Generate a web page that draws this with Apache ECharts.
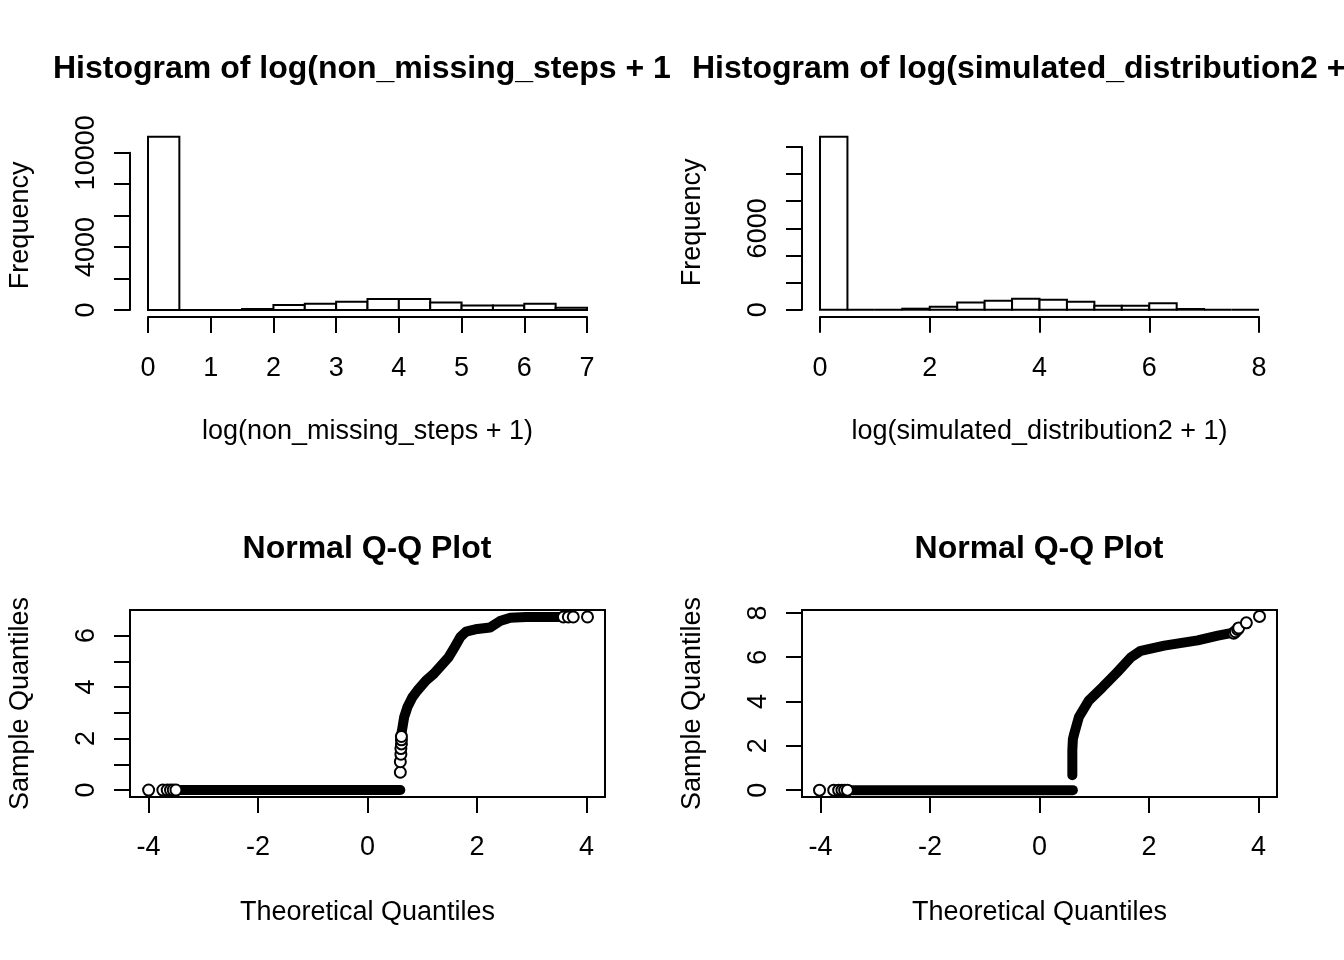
<!DOCTYPE html>
<html>
<head>
<meta charset="UTF-8">
<title>log steps histograms and Q-Q plots</title>
<style>
  html, body { margin: 0; padding: 0; background: #fff; }
  #main { width: 1344px; height: 960px; }
</style>
</head>
<body>
<div id="main"></div>
<script src="https://cdn.jsdelivr.net/npm/echarts@6/dist/echarts.min.js"></script>
<script>
// histogram bins (breaks) and counts
var breaksA = [0, 0.5, 1, 1.5, 2, 2.5, 3, 3.5, 4, 4.5, 5, 5.5, 6, 6.5, 7];
var countsA = [11020, 0, 5, 60, 320, 400, 530, 700, 700, 470, 280, 280, 400, 150];
var breaksB = [0, 0.5, 1, 1.5, 2, 2.5, 3, 3.5, 4, 4.5, 5, 5.5, 6, 6.5, 7, 7.5, 8];
var countsB = [12750, 0, 0, 75, 220, 540, 660, 810, 740, 590, 295, 295, 470, 50, 0, 0];

// histogram axis labels (R drops the ones that would overlap)
var histLabelsYA = [0, 4000, 10000];
var histLabelsYB = [0, 6000];

// Q-Q plot A (non_missing_steps): [theoretical, sample]
var qqZeroTailA = [[-4.0, 0], [-3.74, 0], [-3.66, 0], [-3.6, 0], [-3.55, 0], [-3.5, 0]];
var qqZeroBandA = [[-3.47, 0], [0.60, 0]];
var qqStepsA = [[0.60, 0.69], [0.60, 1.10], [0.61, 1.39], [0.61, 1.61], [0.62, 1.79], [0.62, 1.95], [0.62, 2.08]];
var qqRiseA = [[0.62, 2.2], [0.64, 2.44], [0.67, 2.83], [0.73, 3.22], [0.82, 3.60], [0.91, 3.86],
  [1.07, 4.25], [1.21, 4.51], [1.37, 4.89], [1.48, 5.15], [1.59, 5.54], [1.70, 5.95], [1.80, 6.15],
  [1.97, 6.24], [2.24, 6.31], [2.42, 6.56], [2.61, 6.69], [2.9, 6.72], [3.52, 6.72]];
var qqTopA = [[3.58, 6.72], [3.67, 6.72], [3.76, 6.72], [4.02, 6.72]];

// Q-Q plot B (simulated_distribution2)
var qqZeroTailB = [[-4.02, 0], [-3.76, 0], [-3.67, 0], [-3.61, 0], [-3.56, 0], [-3.51, 0]];
var qqZeroBandB = [[-3.48, 0], [0.61, 0]];
var qqRiseB = [[0.60, 0.67], [0.60, 1.8], [0.61, 2.3], [0.64, 2.6], [0.72, 3.3], [0.90, 4.04],
  [1.15, 4.64], [1.42, 5.32], [1.67, 5.99], [1.85, 6.29], [2.28, 6.52], [2.89, 6.76], [3.26, 6.97], [3.52, 7.10]];
var qqTopB = [[3.55, 7.08], [3.58, 7.15], [3.62, 7.25], [3.64, 7.32], [3.78, 7.55], [4.02, 7.84]];

var qqTicksX = [-4, -2, 0, 2, 4];
var qqTicksYA = [0, 1, 2, 3, 4, 5, 6];
var qqLabelsYA = [0, 2, 4, 6];
var qqTicksYB = [0, 2, 4, 6, 8];

var FONT = '"Liberation Sans", Arial, sans-serif';
var black = '#000';

function binData(breaks, counts) {
  var out = [];
  for (var i = 0; i < counts.length; i++) out.push([breaks[i], breaks[i + 1], counts[i]]);
  return out;
}

function histItem(params, api) {
  var p0 = api.coord([api.value(0), 0]);
  var p1 = api.coord([api.value(1), api.value(2)]);
  return {
    type: 'rect',
    shape: { x: p0[0], y: p1[1], width: p1[0] - p0[0], height: p0[1] - p1[1] },
    style: { fill: '#fff', stroke: black, lineWidth: 2 }
  };
}

function plain(v) { return String(v); }

var lbl = { color: black, fontSize: 27, fontFamily: FONT };
var tick = { show: true, length: 16, lineStyle: { color: black, width: 2 } };
var line = { show: true, onZero: false, lineStyle: { color: black, width: 2 } };
var noLine = { show: false, onZero: false };

function histX(grid, max, name) {
  return {
    type: 'value', gridIndex: grid, min: 0, max: max, interval: max === 8 ? 2 : 1,
    position: 'bottom', offset: 7,
    axisLine: line, axisTick: tick, splitLine: { show: false },
    axisLabel: Object.assign({ margin: 38, showMinLabel: true, showMaxLabel: true, formatter: plain }, lbl),
    name: name, nameLocation: 'middle', nameGap: 101, nameTextStyle: lbl
  };
}
function histY(grid, max, labels) {
  return {
    type: 'value', gridIndex: grid, min: 0, max: max, interval: 2000,
    position: 'left', offset: 18,
    axisLine: line, axisTick: tick, splitLine: { show: false },
    axisLabel: Object.assign({ margin: 30, rotate: 90, customValues: labels, formatter: plain }, lbl),
    name: 'Frequency', nameLocation: 'middle', nameGap: 96, nameRotate: 90,
    nameTextStyle: Object.assign({ padding: [0, 0, 0, 12] }, lbl)
  };
}
function qqX(grid) {
  return {
    type: 'value', gridIndex: grid, min: -4.34, max: 4.34, position: 'bottom',
    axisLine: noLine,
    axisTick: Object.assign({ customValues: qqTicksX }, tick),
    splitLine: { show: false },
    axisLabel: Object.assign({ margin: 37, customValues: qqTicksX, formatter: plain }, lbl),
    name: 'Theoretical Quantiles', nameLocation: 'middle', nameGap: 102, nameTextStyle: lbl
  };
}
function qqY(grid, min, max, ticks, labels) {
  return {
    type: 'value', gridIndex: grid, min: min, max: max, position: 'left',
    axisLine: noLine,
    axisTick: Object.assign({ customValues: ticks }, tick),
    splitLine: { show: false },
    axisLabel: Object.assign({ margin: 30, rotate: 90, customValues: labels, formatter: plain }, lbl),
    name: 'Sample Quantiles', nameLocation: 'middle', nameGap: 96, nameRotate: 90, nameTextStyle: lbl
  };
}

function band(idx, data) {
  return {
    type: 'line', xAxisIndex: idx, yAxisIndex: idx, data: data, showSymbol: false, clip: false,
    silent: true, lineStyle: { color: black, width: 10, cap: 'round', join: 'round' }, z: 3
  };
}
function rings(idx, data) {
  return {
    type: 'scatter', xAxisIndex: idx, yAxisIndex: idx, data: data, symbol: 'emptyCircle',
    symbolSize: 11, clip: false, silent: true,
    itemStyle: { color: black, borderColor: black, borderWidth: 1.7, opacity: 1 }, z: 4
  };
}

var titleStyle = { fontSize: 32, fontWeight: 'bold', color: black, fontFamily: FONT };

var chart = echarts.init(document.getElementById('main'));
chart.setOption({
  backgroundColor: '#fff',
  animation: false,
  title: [
    { text: 'Histogram of log(non_missing_steps + 1)', left: 53, top: 53, padding: 0,
      textStyle: Object.assign({ width: 619, overflow: 'truncate', ellipsis: '' }, titleStyle) },
    { text: 'Histogram of log(simulated_distribution2 + 1)', left: 692, top: 53, padding: 0, textStyle: titleStyle },
    { text: 'Normal Q-Q Plot', left: 367, textAlign: 'center', top: 533, padding: 0, textStyle: titleStyle },
    { text: 'Normal Q-Q Plot', left: 1039, textAlign: 'center', top: 533, padding: 0, textStyle: titleStyle }
  ],
  grid: [
    { left: 148, top: 152.7, width: 439, height: 157.3 },
    { left: 820, top: 147, width: 439, height: 162.7 },
    { left: 130, top: 610, width: 475, height: 187, show: true, borderColor: black, borderWidth: 2, backgroundColor: 'transparent' },
    { left: 802, top: 610, width: 475, height: 187, show: true, borderColor: black, borderWidth: 2, backgroundColor: 'transparent' }
  ],
  xAxis: [
    histX(0, 7, 'log(non_missing_steps + 1)'),
    histX(1, 8, 'log(simulated_distribution2 + 1)'),
    qqX(2),
    qqX(3)
  ],
  yAxis: [
    histY(0, 10000, histLabelsYA),
    histY(1, 12000, histLabelsYB),
    qqY(2, -0.27, 6.99, qqTicksYA, qqLabelsYA),
    qqY(3, -0.31, 8.13, qqTicksYB, qqTicksYB)
  ],
  series: [
    { type: 'custom', xAxisIndex: 0, yAxisIndex: 0, data: binData(breaksA, countsA), renderItem: histItem,
      encode: { x: [0, 1], y: 2 }, clip: false, silent: true },
    { type: 'custom', xAxisIndex: 1, yAxisIndex: 1, data: binData(breaksB, countsB), renderItem: histItem,
      encode: { x: [0, 1], y: 2 }, clip: false, silent: true },
    band(2, qqZeroBandA), band(2, qqRiseA),
    rings(2, qqZeroTailA.concat(qqStepsA, qqTopA)),
    band(3, qqZeroBandB), band(3, qqRiseB),
    rings(3, qqZeroTailB.concat(qqTopB))
  ]
});
</script>
</body>
</html>
